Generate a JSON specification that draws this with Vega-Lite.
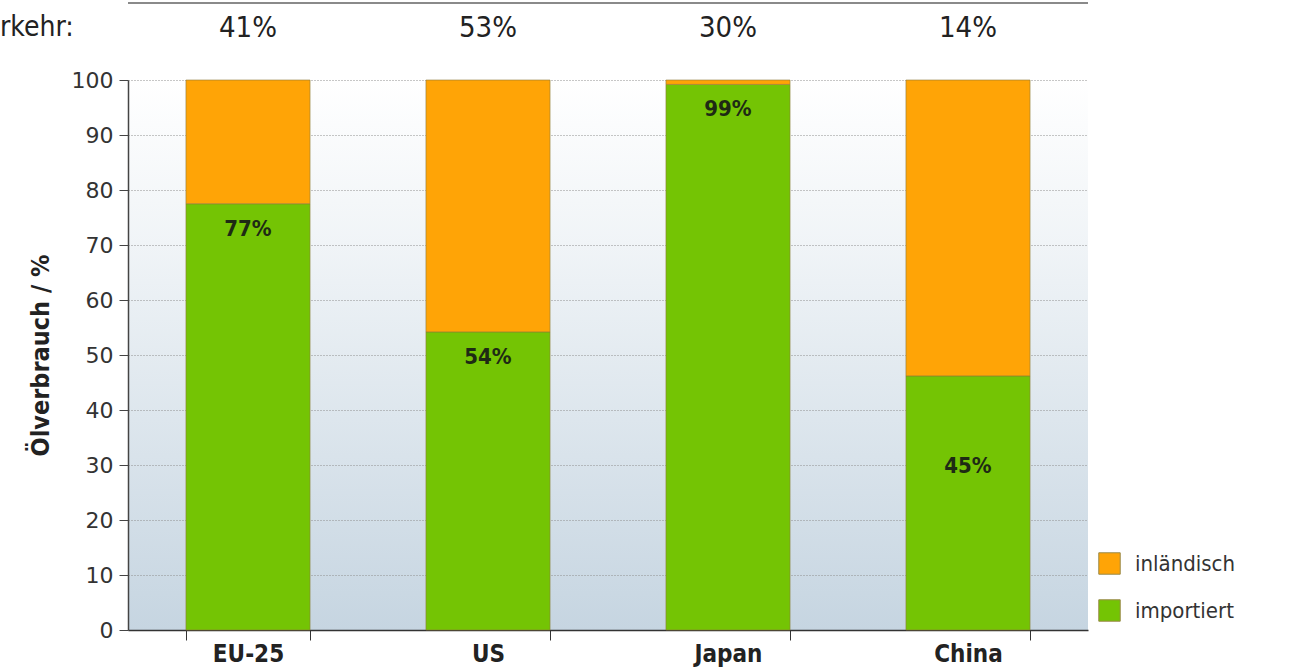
{
  "$schema": "https://vega.github.io/schema/vega-lite/v6.json",
  "width": 960,
  "height": 550,
  "autosize": {"type": "none"},
  "padding": {"left": 128, "top": 80, "right": 210, "bottom": 42},
  "background": "#ffffff",
  "title": {
    "text": "rkehr:",
    "anchor": "start",
    "frame": "group",
    "dx": -128,
    "offset": -40,
    "fontSize": 28,
    "fontWeight": "normal",
    "font": "Liberation Sans Narrow, DejaVu Sans Condensed, Open Sans",
    "color": "#222222"
  },
  "config": {
    "view": {
      "stroke": null,
      "fill": {
        "gradient": "linear",
        "x1": 0, "y1": 0, "x2": 0, "y2": 1,
        "stops": [
          {"offset": 0, "color": "#ffffff"},
          {"offset": 0.3, "color": "#f0f4f7"},
          {"offset": 1, "color": "#c6d5e1"}
        ]
      }
    }
  },
  "datasets": {
    "oil": [
      {"country": "EU-25", "type": "importiert", "value": 77.5, "label": "77%"},
      {"country": "EU-25", "type": "inländisch", "value": 22.5, "label": ""},
      {"country": "US", "type": "importiert", "value": 54.2, "label": "54%"},
      {"country": "US", "type": "inländisch", "value": 45.8, "label": ""},
      {"country": "Japan", "type": "importiert", "value": 99.2, "label": "99%"},
      {"country": "Japan", "type": "inländisch", "value": 0.8, "label": ""},
      {"country": "China", "type": "importiert", "value": 46.2, "label": "45%"},
      {"country": "China", "type": "inländisch", "value": 53.8, "label": ""}
    ],
    "verkehr": [
      {"country": "EU-25", "share": "41%"},
      {"country": "US", "share": "53%"},
      {"country": "Japan", "share": "30%"},
      {"country": "China", "share": "14%"}
    ],
    "topline": [
      {"level": 114.0}
    ]
  },
  "layer": [
    {
      "data": {"name": "oil"},
      "mark": {"type": "bar", "stroke": "#8c7a3a", "strokeWidth": 1, "strokeOpacity": 0.6},
      "encoding": {
        "x": {
          "field": "country",
          "type": "nominal",
          "sort": ["EU-25", "US", "Japan", "China"],
          "scale": {"paddingInner": 0.483, "paddingOuter": 0.2415},
          "axis": {
            "title": null,
            "labelAngle": 0,
            "tickBand": "extent",
            "tickSize": 10,
            "tickColor": "#333333",
            "domainColor": "#333333",
            "domainWidth": 1.5,
            "labelFont": "Liberation Sans Narrow, DejaVu Sans Condensed, Open Sans",
            "labelFontSize": 24,
            "labelFontWeight": "bold",
            "labelColor": "#222222",
            "labelPadding": 2
          }
        },
        "y": {
          "field": "value",
          "type": "quantitative",
          "stack": "zero",
          "scale": {"domain": [0, 100], "nice": false},
          "axis": {
            "values": [0, 10, 20, 30, 40, 50, 60, 70, 80, 90, 100],
            "title": "Ölverbrauch / %",
            "titleFont": "Liberation Sans Narrow, DejaVu Sans Condensed, Open Sans",
            "titleFontSize": 25,
            "titleFontWeight": "bold",
            "titleColor": "#222222",
            "titlePadding": 18,
            "labelFont": "DejaVu Sans",
            "labelFontSize": 22,
            "labelColor": "#333333",
            "labelPadding": 6,
            "tickSize": 9,
            "tickColor": "#444444",
            "domainColor": "#444444",
            "domainWidth": 1.5,
            "grid": true,
            "gridColor": "#8f8f8f",
            "gridDash": [1, 2],
            "gridWidth": 1
          }
        },
        "color": {
          "field": "type",
          "type": "nominal",
          "scale": {"domain": ["inländisch", "importiert"], "range": ["#ffa406", "#74c404"]},
          "legend": {
            "title": null,
            "orient": "none",
            "legendX": 970,
            "legendY": 472,
            "symbolType": "square",
            "symbolSize": 460,
            "symbolStrokeColor": "#9a8a4a",
            "symbolStrokeWidth": 1,
            "labelFont": "Liberation Sans Narrow, DejaVu Sans Condensed, Open Sans",
            "labelFontSize": 22,
            "labelColor": "#333333",
            "labelOffset": 14,
            "rowPadding": 20
          }
        },
        "order": {"field": "type", "sort": "ascending"}
      }
    },
    {
      "data": {"name": "oil"},
      "transform": [{"filter": "datum.type === 'importiert' && datum.country !== 'China'"}],
      "mark": {"type": "text", "baseline": "middle", "dy": 25, "fontSize": 22, "fontWeight": "bold", "font": "DejaVu Sans Condensed, Liberation Sans Narrow, Open Sans", "color": "#1e2a14"},
      "encoding": {
        "x": {"field": "country", "type": "nominal", "sort": ["EU-25", "US", "Japan", "China"]},
        "y": {"field": "value", "type": "quantitative"},
        "text": {"field": "label"}
      }
    },
    {
      "data": {"name": "oil"},
      "transform": [{"filter": "datum.type === 'importiert' && datum.country === 'China'"}],
      "mark": {"type": "text", "baseline": "middle", "fontSize": 22, "fontWeight": "bold", "font": "DejaVu Sans Condensed, Liberation Sans Narrow, Open Sans", "color": "#1e2a14"},
      "encoding": {
        "x": {"field": "country", "type": "nominal", "sort": ["EU-25", "US", "Japan", "China"]},
        "y": {"datum": 29.8},
        "text": {"field": "label"}
      }
    },
    {
      "data": {"name": "verkehr"},
      "mark": {"type": "text", "baseline": "middle", "fontSize": 29, "font": "Liberation Sans Narrow, DejaVu Sans Condensed, Open Sans", "color": "#222222", "clip": false},
      "encoding": {
        "x": {"field": "country", "type": "nominal", "sort": ["EU-25", "US", "Japan", "China"]},
        "y": {"datum": 109.5},
        "text": {"field": "share"}
      }
    },
    {
      "data": {"name": "topline"},
      "mark": {"type": "rule", "color": "#8a8a8a", "strokeWidth": 2, "clip": false},
      "encoding": {
        "y": {"field": "level", "type": "quantitative"}
      }
    }
  ]
}
